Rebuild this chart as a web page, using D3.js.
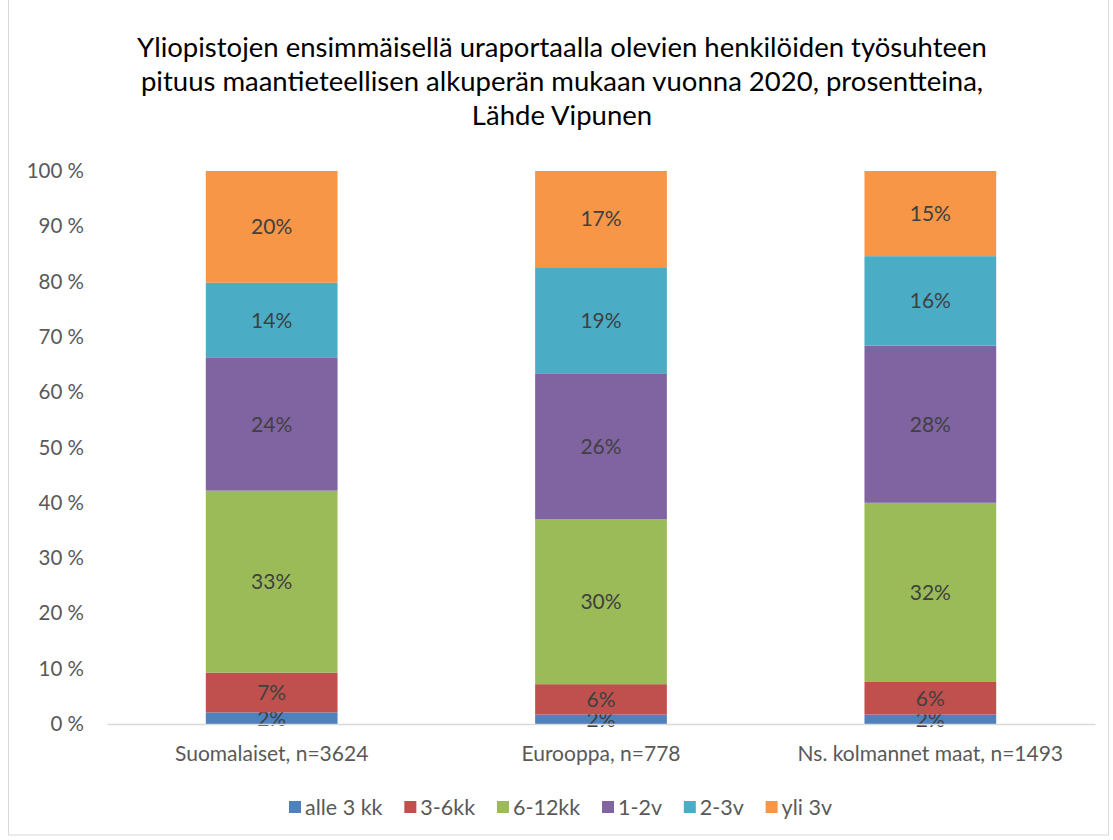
<!DOCTYPE html>
<html>
<head>
<meta charset="utf-8">
<script src="https://cdn.jsdelivr.net/npm/d3@7"></script>
<style>
  body { margin: 0; background: #fff; }
  text { font-family: Lato, "Open Sans", sans-serif; }
</style>
</head>
<body>
<svg id="chart" width="1113" height="840"></svg>
<script>
// data (percent of each group)
const categories = ['Suomalaiset, n=3624', 'Eurooppa, n=778', 'Ns. kolmannet maat, n=1493'];
const seriesNames = ['alle 3 kk', '3-6kk', '6-12kk', '1-2v', '2-3v', 'yli 3v'];
const alle3kk = [2.1, 1.7, 1.7];
const kk3_6 = [7.2, 5.5, 5.9];
const kk6_12 = [32.9, 29.8, 32.4];
const v1_2 = [24.0, 26.3, 28.4];
const v2_3 = [13.6, 19.3, 16.2];
const yli3v = [20.2, 17.4, 15.4];
const yTicks = [0, 10, 20, 30, 40, 50, 60, 70, 80, 90, 100];
const titleLines = [
  'Yliopistojen ensimmäisellä uraportaalla olevien henkilöiden työsuhteen',
  'pituus maantieteellisen alkuperän mukaan vuonna 2020, prosentteina,',
  'Lähde Vipunen'
];

const colors = ['#4f81bd', '#c0504d', '#9bbb59', '#8064a2', '#4bacc6', '#f79646'];
const allSeries = [alle3kk, kk3_6, kk6_12, v1_2, v2_3, yli3v];

const table = categories.map((c, i) => {
  const row = {cat: c};
  seriesNames.forEach((s, j) => row[s] = allSeries[j][i]);
  return row;
});

const svg = d3.select('#chart');
const margin = {top: 171, right: 18, left: 107, bottom: 116};
const width = +svg.attr('width');
const height = +svg.attr('height');
const innerWidth = width - margin.left - margin.right;
const innerHeight = height - margin.top - margin.bottom;

// chart border
svg.append('rect')
  .attr('x', 8.5).attr('y', -1)
  .attr('width', 1100).attr('height', 836)
  .attr('fill', 'none').attr('stroke', '#d9d9d9');

// title
svg.append('text')
  .attr('x', 562).attr('y', 57)
  .attr('text-anchor', 'middle')
  .style('font-size', '27.5px').style('fill', '#000')
  .selectAll('tspan').data(titleLines).enter().append('tspan')
  .attr('x', 562)
  .attr('dy', (d, i) => i === 0 ? 0 : 34)
  .text(d => d);

const g = svg.append('g').attr('transform', `translate(${margin.left},${margin.top})`);

const x = d3.scaleBand().domain(categories).range([0, innerWidth]).paddingInner(0.6).paddingOuter(0.3);
const y = d3.scaleLinear().domain([0, 100]).range([innerHeight, 0]);

const stack = d3.stack().keys(seriesNames);
const layers = stack(table);

const layerG = g.selectAll('.layer').data(layers).enter().append('g')
  .attr('class', 'layer')
  .attr('fill', (d, i) => colors[i]);

layerG.selectAll('rect').data(d => d).enter().append('rect')
  .attr('x', d => x(d.data.cat))
  .attr('width', x.bandwidth())
  .attr('y', d => y(d[1]))
  .attr('height', d => y(d[0]) - y(d[1]));

// value labels
layerG.selectAll('text').data(d => d).enter().append('text')
  .attr('x', d => x(d.data.cat) + x.bandwidth() / 2)
  .attr('y', d => (y(d[0]) + y(d[1])) / 2)
  .attr('dy', '0.35em')
  .attr('text-anchor', 'middle')
  .style('font-size', '21px')
  .style('fill', '#404040')
  .text(d => Math.round(d[1] - d[0]) + '%');

// y axis
const yAxis = g.append('g').call(d3.axisLeft(y).tickValues(yTicks).tickSize(0).tickPadding(23).tickFormat(d => d + ' %'));
yAxis.select('.domain').remove();
yAxis.selectAll('text').style('font-size', '20.5px').style('fill', '#595959').style('font-family', 'Lato, sans-serif');

// x axis
const xAxis = g.append('g').attr('transform', `translate(0,${innerHeight})`)
  .call(d3.axisBottom(x).tickSize(0).tickPadding(22));
xAxis.select('.domain').attr('stroke', '#d9d9d9').attr('stroke-width', 1.3);
xAxis.selectAll('text').style('font-size', '21px').style('fill', '#595959').style('font-family', 'Lato, sans-serif');

// legend
const legend = svg.append('g').attr('transform', 'translate(0,807)');
const items = legend.selectAll('g').data(seriesNames).enter().append('g');
items.append('rect').attr('width', 12).attr('height', 12).attr('y', -6)
  .attr('fill', (d, i) => colors[i]);
items.append('text').attr('x', 16).attr('dy', '0.35em')
  .style('font-size', '21.5px').style('fill', '#595959').text(d => d);
const widths = [];
items.each(function() { widths.push(this.getBBox().width); });
const targetWidth = 543;
const gap = (targetWidth - d3.sum(widths)) / (widths.length - 1);
let cur = 289;
const offs = widths.map(w => { const o = cur; cur += w + gap; return o; });
items.attr('transform', (d, i) => `translate(${offs[i]},0)`);
</script>
</body>
</html>
